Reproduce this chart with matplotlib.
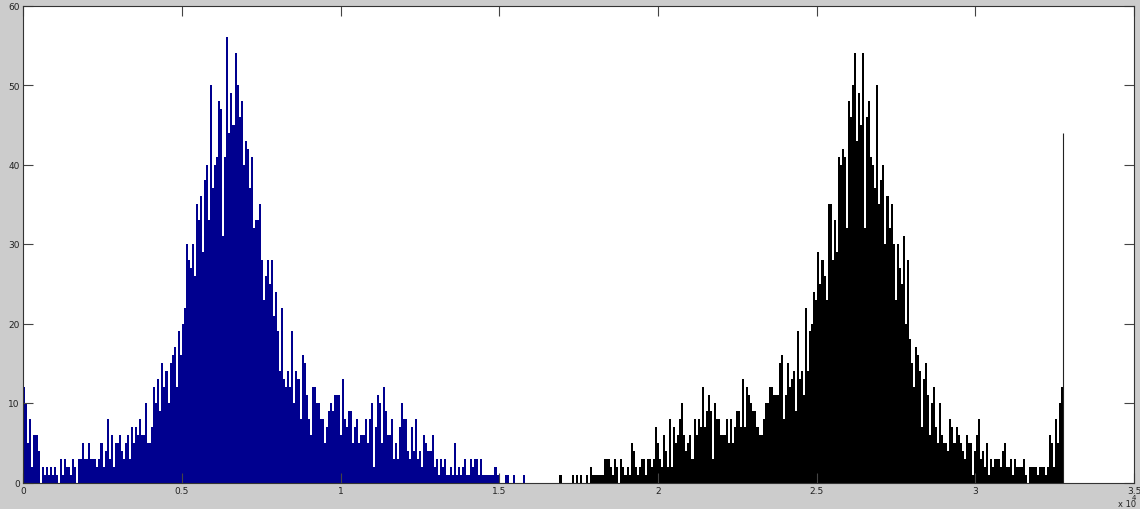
import numpy as np
import matplotlib
matplotlib.use("Agg")
import matplotlib.pyplot as plt

# ---- data (histogram counts, 64-unit bins) ----
bin_width = 64
blue_start = 0
blue_counts = [
    12, 10, 5, 8, 2, 6, 6, 4, 0, 2,
    1, 2, 1, 2, 1, 2, 1, 0, 3, 1,
    3, 2, 2, 1, 3, 2, 0, 3, 3, 5,
    3, 3, 5, 3, 3, 3, 2, 3, 5, 2,
    4, 8, 3, 6, 2, 5, 5, 6, 4, 3,
    5, 6, 3, 7, 5, 7, 6, 8, 6, 6,
    10, 5, 5, 7, 12, 10, 13, 9, 15, 12,
    14, 10, 15, 16, 17, 12, 19, 16, 20, 22,
    30, 28, 27, 30, 26, 35, 33, 36, 29, 38,
    40, 33, 50, 37, 40, 41, 48, 47, 31, 41,
    56, 44, 49, 45, 54, 50, 46, 48, 40, 43,
    42, 37, 41, 32, 33, 33, 35, 28, 23, 26,
    28, 25, 28, 21, 24, 19, 14, 22, 13, 12,
    14, 12, 19, 10, 14, 13,
    8, 16, 15, 11,
    8, 6, 12, 12, 10, 10, 8, 8, 5, 7,
    9, 10, 9, 11, 11, 11, 6, 13, 8, 7,
    9, 9, 5, 7, 8, 5, 6, 6, 8, 5,
    8, 10, 2, 7, 11, 10, 5, 12, 9, 6,
    6, 8, 3, 5, 3, 7, 10, 8, 8, 4,
    3, 7, 4, 8, 3, 4, 2, 6, 5, 4,
    4, 6, 2, 3, 1, 3, 2, 3, 1, 1,
    2, 1, 5, 1, 2, 1, 2, 3, 1, 1,
    3, 2, 3, 3, 1, 3, 1, 1, 1, 1,
    1, 1, 2, 1, 0, 0, 0, 1, 1, 0,
    0, 1, 0, 0, 0, 0, 1, 0, 0, 0,
    0, 0, 0, 0, 0, 0,
]
black_start = 16384
black_counts = [
    0, 0, 0, 0, 0, 0, 0, 0, 1, 0, 0, 0, 0, 0, 1, 0, 1, 0,
    1, 0, 0, 1, 0, 2,
    1, 1, 1, 1, 1, 1, 3, 3, 3, 2,
    1, 3, 2, 0, 3, 2, 1, 2, 1, 5,
    4, 2, 1, 2, 3, 3, 1, 3, 3, 2,
    3, 7, 5, 3, 2, 6, 4, 2, 8, 2,
    7, 5, 6, 8, 10, 6, 4, 5, 6, 3,
    8, 6, 8, 7, 12, 7, 9, 11, 9, 3,
    10, 8, 8, 6, 6, 6, 8, 5, 8, 5,
    7, 9, 9, 7, 13, 7, 12, 11, 10, 9,
    9, 7, 6, 6, 8, 10, 10, 12, 12, 11,
    11, 11, 15, 16, 8, 11, 15, 12, 13, 14,
    9, 19, 13, 14, 11, 22, 14, 19, 20, 24,
    23, 29, 25, 28, 26, 23, 35, 35, 28, 33,
    29, 41, 40, 42, 41, 32, 48, 46, 50, 54,
    43, 49,
    45, 54, 32, 46, 48, 41, 40, 37,
    50, 35, 38, 40, 30, 36, 32, 35, 30, 23,
    30, 27, 25, 31, 20, 28, 18, 15, 12, 17,
    16, 14, 7, 13, 15, 11, 6, 10, 12, 7,
    5, 10, 6, 5, 5, 4, 8, 7, 5, 7,
    6, 5, 4, 3, 6, 5, 5, 1, 4, 6,
    8, 3, 4, 2, 5, 1, 3, 2, 3, 3,
    3, 2, 4, 5, 2, 2, 3, 1, 3, 2,
    2, 2, 3, 1, 0, 2, 2, 2, 2, 1,
    2, 2, 2, 1, 2, 6, 5, 2, 8, 5, 10, 12,
]
end_spike_x = 32768
end_spike_count = 44

x_ticks = [0, 5000, 10000, 15000, 20000, 25000, 30000, 35000]
x_tick_labels = ["0", "0.5", "1", "1.5", "2", "2.5", "3", "3.5"]
y_ticks = [0, 10, 20, 30, 40, 50, 60]

# ---- figure ----
W, H = 1140, 510
fig = plt.figure(figsize=(W / 100, H / 100), dpi=100, facecolor="#cccccc")
ax = fig.add_axes([23.3 / W, 26.5 / H, 1110.7 / W, 477 / H])
ax.set_facecolor("white")

blue_x = blue_start + np.arange(len(blue_counts)) * bin_width
black_x = black_start + np.arange(len(black_counts)) * bin_width
ax.bar(blue_x, blue_counts, width=bin_width, align="edge",
       color="#00008f", linewidth=0)
ax.bar(black_x, black_counts, width=bin_width, align="edge",
       color="black", linewidth=0)
ax.vlines(end_spike_x, 0, end_spike_count, color="#222222", lw=0.8)

ax.set_xlim(0, 35000)
ax.set_ylim(0, 60)
ax.set_xticks(x_ticks)
ax.set_xticklabels(x_tick_labels)
ax.set_yticks(y_ticks)

for sp in ax.spines.values():
    sp.set_color("#333333")
    sp.set_linewidth(0.8)

ax.tick_params(direction="in", top=True, right=True, length=7, width=0.8,
               color="#444444", labelsize=6.5, labelcolor="#222222", pad=2.5)

fig.text(1127 / W, 1 - 505 / H, "x 10", ha="center", va="center",
         fontsize=6, color="#222222")
fig.text(1134 / W, 1 - 498 / H, "4", ha="center", va="center",
         fontsize=5, color="#222222")

fig.savefig("out.png", dpi=100, facecolor=fig.get_facecolor())
